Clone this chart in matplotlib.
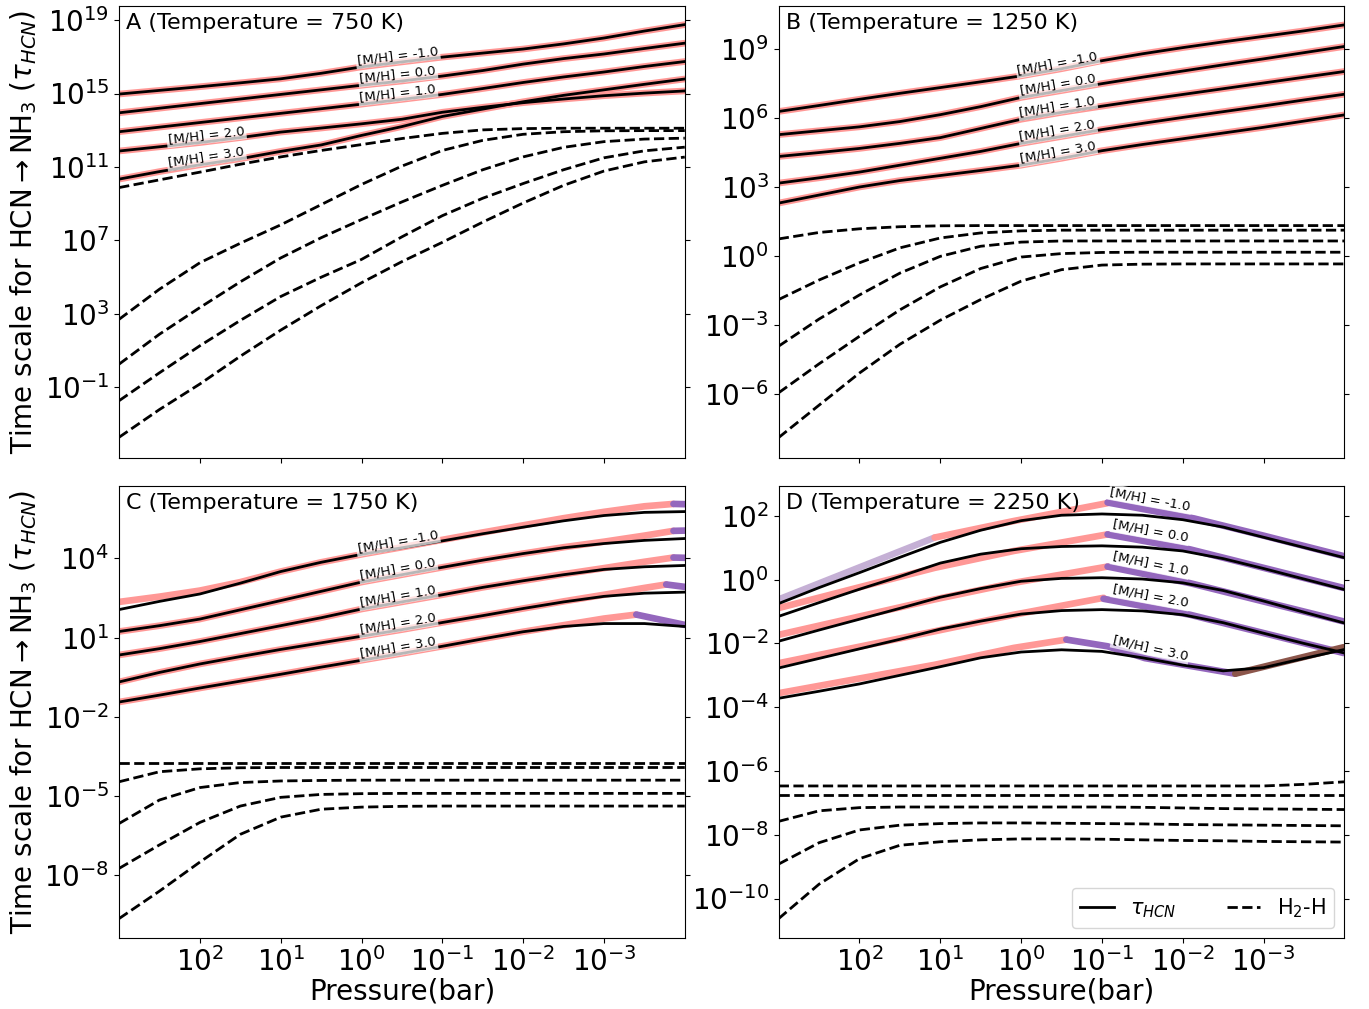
import numpy as np
import matplotlib.pyplot as plt
from matplotlib.lines import Line2D
from matplotlib.ticker import NullLocator

# log10 pressure (bar), same grid in every panel
log_p = [3, 2.5, 2, 1.5, 1, 0.5, 0, -0.5, -1, -1.5, -2, -2.5, -3, -3.5, -4]
metallicity = ['-1.0', '0.0', '1.0', '2.0', '3.0']

PINK, LAV, PURPLE, BROWN = '#ff9896', '#c5b0d5', '#9467bd', '#8c564b'

# ---- panel A, 750 K (log10 of time scales) ----
a_tau = [
    [14.97, 15.17, 15.37, 15.58, 15.8, 16.1, 16.45, 16.72, 16.98, 17.2, 17.42, 17.7, 18.02, 18.4, 18.75],
    [13.95, 14.2, 14.45, 14.7, 14.95, 15.2, 15.45, 15.68, 15.95, 16.25, 16.6, 16.9, 17.15, 17.45, 17.74],
    [12.92, 13.17, 13.42, 13.67, 13.92, 14.17, 14.42, 14.68, 14.95, 15.27, 15.6, 15.9, 16.17, 16.47, 16.74],
    [11.87, 12.1, 12.33, 12.6, 12.9, 13.12, 13.35, 13.6, 13.98, 14.25, 14.5, 14.7, 14.88, 15.02, 15.14],
    [10.34, 10.75, 11.12, 11.45, 11.85, 12.2, 12.72, 13.2, 13.75, 14.15, 14.55, 14.9, 15.2, 15.5, 15.79],
]
a_h2h = [
    [9.88, 10.3, 10.72, 11.15, 11.55, 11.9, 12.22, 12.55, 12.83, 13.02, 13.09, 13.11, 13.11, 13.11, 13.11],
    [2.71, 4.35, 5.79, 6.85, 7.85, 8.95, 10.05, 11.05, 11.9, 12.45, 12.78, 12.92, 12.97, 12.98, 12.98],
    [0.27, 1.9, 3.35, 4.75, 6.05, 7.15, 8.14, 9.1, 10.0, 10.85, 11.55, 12.07, 12.38, 12.52, 12.57],
    [-1.72, -0.2, 1.27, 2.65, 3.95, 5.0, 5.97, 7.2, 8.35, 9.3, 10.1, 10.85, 11.5, 11.88, 12.08],
    [-3.71, -2.2, -0.81, 0.7, 2.12, 3.45, 4.7, 5.85, 6.9, 8.0, 9.04, 10.0, 10.78, 11.28, 11.54],
]

# ---- panel B, 1250 K ----
b_tau = [
    [6.29, 6.55, 6.82, 7.08, 7.33, 7.58, 7.84, 8.15, 8.5, 8.8, 9.07, 9.32, 9.56, 9.8, 10.06],
    [5.28, 5.45, 5.62, 5.85, 6.15, 6.5, 6.9, 7.2, 7.5, 7.78, 8.05, 8.32, 8.58, 8.85, 9.12],
    [4.33, 4.5, 4.68, 4.9, 5.15, 5.55, 5.95, 6.25, 6.52, 6.78, 7.03, 7.28, 7.53, 7.78, 8.03],
    [3.17, 3.4, 3.65, 3.95, 4.25, 4.55, 4.9, 5.2, 5.5, 5.77, 6.03, 6.28, 6.53, 6.79, 7.04],
    [2.3, 2.65, 3.0, 3.28, 3.5, 3.72, 3.95, 4.25, 4.58, 4.85, 5.1, 5.35, 5.6, 5.87, 6.14],
]
b_h2h = [
    [0.74, 1.02, 1.18, 1.27, 1.31, 1.32, 1.32, 1.32, 1.32, 1.32, 1.32, 1.32, 1.32, 1.32, 1.32],
    [-1.9, -1.05, -0.3, 0.35, 0.78, 1.0, 1.09, 1.12, 1.12, 1.12, 1.12, 1.12, 1.12, 1.12, 1.12],
    [-3.93, -2.75, -1.7, -0.75, -0.02, 0.42, 0.6, 0.65, 0.65, 0.65, 0.65, 0.65, 0.65, 0.65, 0.65],
    [-5.96, -4.7, -3.5, -2.35, -1.35, -0.55, -0.05, 0.1, 0.15, 0.16, 0.16, 0.16, 0.16, 0.16, 0.16],
    [-7.91, -6.5, -5.1, -3.85, -2.8, -1.9, -1.1, -0.6, -0.4, -0.36, -0.35, -0.35, -0.35, -0.35, -0.35],
]

# ---- panel C, 1750 K ----
c_tau = [
    [2.06, 2.37, 2.65, 3.06, 3.5, 3.85, 4.15, 4.4, 4.66, 4.93, 5.18, 5.42, 5.62, 5.74, 5.77],
    [1.23, 1.45, 1.7, 2.05, 2.4, 2.75, 3.1, 3.38, 3.66, 3.93, 4.18, 4.4, 4.56, 4.68, 4.75],
    [0.34, 0.58, 0.85, 1.15, 1.45, 1.75, 2.08, 2.35, 2.62, 2.9, 3.15, 3.38, 3.58, 3.68, 3.73],
    [-0.68, -0.32, 0.0, 0.28, 0.55, 0.8, 1.05, 1.3, 1.57, 1.83, 2.1, 2.35, 2.56, 2.68, 2.72],
    [-1.44, -1.18, -0.91, -0.65, -0.39, -0.12, 0.14, 0.4, 0.67, 0.95, 1.22, 1.42, 1.53, 1.53, 1.42],
]
c_h2h = [
    [-3.74, -3.74, -3.74, -3.74, -3.74, -3.74, -3.74, -3.74, -3.74, -3.74, -3.74, -3.74, -3.74, -3.74, -3.74],
    [-4.46, -4.08, -3.97, -3.93, -3.92, -3.92, -3.92, -3.92, -3.92, -3.92, -3.92, -3.92, -3.92, -3.92, -3.92],
    [-6.04, -5.15, -4.68, -4.49, -4.43, -4.41, -4.4, -4.4, -4.4, -4.4, -4.4, -4.4, -4.4, -4.4, -4.4],
    [-7.74, -6.85, -6.0, -5.38, -5.05, -4.94, -4.91, -4.9, -4.9, -4.9, -4.9, -4.9, -4.9, -4.9, -4.9],
    [-9.64, -8.6, -7.5, -6.45, -5.8, -5.5, -5.42, -5.39, -5.38, -5.38, -5.38, -5.38, -5.38, -5.38, -5.38],
]
# coloured regime bands behind the C curves: pink part then purple tail
c_pink_p = [
    [3, 2.5, 2, 1.5, 1, 0.5, 0, -0.5, -1, -1.5, -2, -2.5, -3, -3.5, -3.86],
    [3, 2.5, 2, 1.5, 1, 0.5, 0, -0.5, -1, -1.5, -2, -2.5, -3, -3.5, -3.86],
    [3, 2.5, 2, 1.5, 1, 0.5, 0, -0.5, -1, -1.5, -2, -2.5, -3, -3.5, -3.86],
    [3, 2.5, 2, 1.5, 1, 0.5, 0, -0.5, -1, -1.5, -2, -2.5, -3, -3.5, -3.77],
    [3, 2.5, 2, 1.5, 1, 0.5, 0, -0.5, -1, -1.5, -2, -2.5, -3, -3.4],
]
c_pink_v = [
    [2.35, 2.55, 2.78, 3.1, 3.5, 3.85, 4.15, 4.42, 4.7, 4.98, 5.25, 5.52, 5.76, 5.97, 6.06],
    [1.23, 1.45, 1.7, 2.05, 2.4, 2.75, 3.1, 3.38, 3.66, 3.93, 4.18, 4.42, 4.63, 4.86, 5.04],
    [0.34, 0.58, 0.85, 1.15, 1.45, 1.75, 2.08, 2.35, 2.62, 2.9, 3.15, 3.4, 3.63, 3.87, 4.03],
    [-0.68, -0.32, 0.0, 0.28, 0.55, 0.8, 1.05, 1.3, 1.57, 1.83, 2.1, 2.37, 2.62, 2.88, 3.01],
    [-1.44, -1.18, -0.91, -0.65, -0.39, -0.12, 0.14, 0.4, 0.67, 0.95, 1.22, 1.47, 1.72, 1.87],
]
c_purple_p = [[-3.86, -4], [-3.86, -4], [-3.86, -4], [-3.77, -4], [-3.4, -4]]
c_purple_v = [[6.06, 6.05], [5.04, 5.05], [4.03, 4.02], [3.01, 2.92], [1.87, 1.48]]

# ---- panel D, 2250 K ----
d_tau = [
    [-0.75, -0.25, 0.22, 0.7, 1.17, 1.55, 1.85, 2.02, 2.06, 2.02, 1.88, 1.65, 1.33, 1.01, 0.69],
    [-1.15, -0.72, -0.3, 0.1, 0.52, 0.8, 0.97, 1.04, 1.06, 1.02, 0.9, 0.66, 0.35, 0.02, -0.31],
    [-1.93, -1.58, -1.24, -0.9, -0.55, -0.28, -0.05, 0.04, 0.06, 0.02, -0.1, -0.34, -0.67, -1.02, -1.36],
    [-2.77, -2.47, -2.17, -1.87, -1.55, -1.3, -1.08, -0.97, -0.94, -0.98, -1.1, -1.35, -1.68, -2.0, -2.3],
    [-3.72, -3.5, -3.27, -3.0, -2.73, -2.45, -2.27, -2.2, -2.25, -2.45, -2.68, -2.86, -2.76, -2.47, -2.19],
]
d_h2h = [
    [-6.47, -6.47, -6.47, -6.47, -6.47, -6.47, -6.47, -6.47, -6.47, -6.47, -6.47, -6.47, -6.47, -6.42, -6.34],
    [-6.74, -6.74, -6.74, -6.74, -6.74, -6.74, -6.74, -6.74, -6.74, -6.74, -6.74, -6.74, -6.74, -6.74, -6.74],
    [-7.58, -7.25, -7.15, -7.13, -7.13, -7.13, -7.13, -7.13, -7.13, -7.14, -7.16, -7.18, -7.19, -7.2, -7.21],
    [-8.92, -8.25, -7.85, -7.7, -7.65, -7.63, -7.63, -7.64, -7.65, -7.66, -7.68, -7.69, -7.7, -7.71, -7.72],
    [-10.63, -9.55, -8.75, -8.33, -8.22, -8.16, -8.13, -8.13, -8.14, -8.16, -8.18, -8.19, -8.21, -8.22, -8.23],
]
# D bands: (colour, log10 p, log10 tau) pieces for each metallicity
d_bands = [
    [(LAV, [3, 1.07], [-0.62, 1.32]),
     (PINK, [1.07, 0.09, -1.07], [1.32, 1.84, 2.40]),
     (PURPLE, [-1.07, -2.14, -3, -3.99], [2.42, 1.92, 1.38, 0.74])],
    [(PINK, [3, 1.07, 0.09, -1.07], [-0.89, 0.37, 0.9, 1.42]),
     (PURPLE, [-1.07, -2.09, -3.99], [1.42, 0.95, -0.26])],
    [(PINK, [3, 1.07, 0.09, -1.07], [-1.73, -0.62, -0.10, 0.41]),
     (PURPLE, [-1.07, -2.09, -3.99], [0.41, -0.11, -1.31])],
    [(PINK, [3, 1.07, 0.09, -1.02], [-2.62, -1.62, -1.10, -0.57]),
     (PURPLE, [-1.02, -2.09, -3.99], [-0.6, -1.10, -2.3])],
    [(PINK, [3, 1.07, 0.09, -0.56], [-3.56, -2.67, -2.14, -1.88]),
     (PURPLE, [-0.56, -1.07, -1.53, -2.65], [-1.88, -2.09, -2.46, -2.95]),
     (BROWN, [-2.65, -3.99], [-2.95, -2.12])],
]

pressure = 10.0 ** np.array(log_p)


def bands_same_as(tau):
    return [[(PINK, log_p, t)] for t in tau]


def c_bands():
    out = []
    for i in range(5):
        out.append([(PINK, c_pink_p[i], c_pink_v[i]),
                    (PURPLE, c_purple_p[i], c_purple_v[i])])
    return out


panels = [
    ('A (Temperature = 750 K)', a_tau, a_h2h, bands_same_as(a_tau),
     [-0.45, -0.45, -0.45, 1.92, 1.92], 4.5, (-4.85, 19.76), [19, 15, 11, 7, 3, -1]),
    ('B (Temperature = 1250 K)', b_tau, b_h2h, bands_same_as(b_tau),
     [-0.45] * 5, 4.5, (-8.81, 10.88), [9, 6, 3, 0, -3, -6]),
    ('C (Temperature = 1750 K)', c_tau, c_h2h, c_bands(),
     [-0.45] * 5, 4.5, (-10.39, 6.73), [4, 1, -2, -5, -8]),
    ('D (Temperature = 2250 K)', d_tau, d_h2h, d_bands,
     [-1.6] * 5, 8, (-11.25, 2.93), [2, 0, -2, -4, -6, -8, -10]),
]

fig, axs = plt.subplots(2, 2, figsize=(13.69, 10.09), dpi=100, sharex=True)
fig.subplots_adjust(left=0.087, right=0.982, top=0.994, bottom=0.070,
                    wspace=0.166, hspace=0.062)

for ax, (title, tau, h2h, bands, lab_x, lab_off, ylim, yt) in zip(axs.flat, panels):
    ax.set_xscale('log')
    ax.set_yscale('log')
    for i in range(5):
        for col, bp, bv in bands[i]:
            ax.plot(10.0 ** np.array(bp), 10.0 ** np.array(bv), color=col,
                    lw=4.8, solid_capstyle='round', zorder=1)
        ax.plot(pressure, 10.0 ** np.array(tau[i]), color='k', lw=2, zorder=2)
        ax.plot(pressure, 10.0 ** np.array(h2h[i]), color='k', lw=2, ls='--', zorder=2)
    ax.set_xlim(1e3, 1e-4)
    ax.set_ylim(10.0 ** ylim[0], 10.0 ** ylim[1])
    ax.set_xticks([1e2, 1e1, 1e0, 1e-1, 1e-2, 1e-3])
    ax.set_yticks([10.0 ** e for e in yt])
    ax.xaxis.set_minor_locator(NullLocator())
    ax.yaxis.set_minor_locator(NullLocator())
    ax.tick_params(axis='both', labelsize=20)
    ax.tick_params(axis='x', pad=2.5)
    ax.tick_params(axis='y', right=True)
    ax.text(0.013, 0.985, title, transform=ax.transAxes, ha='left', va='top', fontsize=16)

    # inline [M/H] labels sitting on the coloured band
    for i in range(5):
        lx = lab_x[i]
        for col, bp, bv in bands[i]:
            if min(bp) <= lx <= max(bp):
                ly = np.interp(lx, bp[::-1], bv[::-1])
                ly1 = np.interp(lx + 0.2, bp[::-1], bv[::-1])
                ly2 = np.interp(lx - 0.2, bp[::-1], bv[::-1])
                break
        p1 = ax.transData.transform((10 ** (lx + 0.2), 10 ** ly1))
        p2 = ax.transData.transform((10 ** (lx - 0.2), 10 ** ly2))
        ang = np.degrees(np.arctan2(p2[1] - p1[1], p2[0] - p1[0]))
        ax.annotate(f'[M/H] = {metallicity[i]}', xy=(10 ** lx, 10 ** ly),
                    xytext=(0, lab_off), textcoords='offset points',
                    rotation=ang, rotation_mode='anchor', ha='center', va='center',
                    fontsize=9.5, zorder=3,
                    bbox=dict(boxstyle='square,pad=0.12', fc='white', ec='none', alpha=0.72))

for ax in axs[:, 0]:
    ax.set_ylabel(r'Time scale for HCN$\rightarrow$NH$_3$ ($\tau_{HCN}$)', fontsize=20)
for ax in axs[1, :]:
    ax.set_xlabel('Pressure(bar)', fontsize=20, labelpad=1)

handles = [Line2D([], [], color='k', lw=2), Line2D([], [], color='k', lw=2, ls='--')]
axs[1, 1].legend(handles, [r'$\tau_{HCN}$', 'H$_2$-H'], loc='lower right', ncol=2,
                 fontsize=15, handlelength=1.6, columnspacing=2.4)

fig.savefig('out.png', dpi=100)
